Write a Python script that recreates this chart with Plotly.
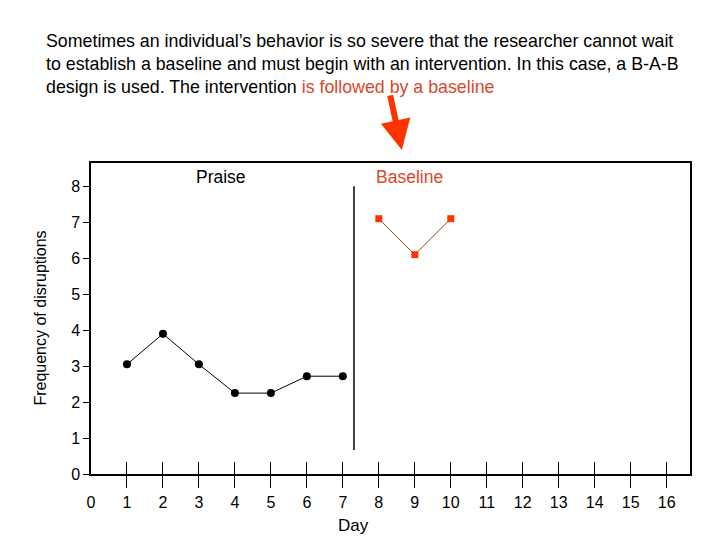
import plotly.graph_objects as go

# data
praise_days = [1, 2, 3, 4, 5, 6, 7]
praise_values = [3.05, 3.9, 3.05, 2.25, 2.25, 2.72, 2.72]
baseline_days = [8, 9, 10]
baseline_values = [7.1, 6.1, 7.1]
x_ticks = list(range(0, 17))
y_ticks = list(range(0, 9))
phase_change_x = 7.31
phase_line_y = [0.67, 8]

RED = "#ff3300"
TEXT_RED = "#d9472b"
FONT = "Liberation Sans, Arial, sans-serif"

fig = go.Figure()

fig.add_trace(go.Scatter(
    x=praise_days, y=praise_values, mode="lines+markers",
    line=dict(color="black", width=1),
    marker=dict(color="black", size=8, symbol="circle"),
    showlegend=False
))
fig.add_trace(go.Scatter(
    x=baseline_days, y=baseline_values, mode="lines+markers",
    line=dict(color="#9a3a20", width=1),
    marker=dict(color=RED, size=7, symbol="square"),
    showlegend=False
))
# phase change line
fig.add_trace(go.Scatter(
    x=[phase_change_x, phase_change_x], y=phase_line_y, mode="lines",
    line=dict(color="black", width=1.5), showlegend=False, hoverinfo="skip"
))
# dummy traces so the tick-only overlay axes get drawn
fig.add_trace(go.Scatter(x=[None], y=[None], xaxis="x2", showlegend=False))
fig.add_trace(go.Scatter(x=[None], y=[None], xaxis="x3", showlegend=False))

x_range = [0, 16.65]

# page body has an 8px margin, so the figure is offset by 8px
fig.update_layout(
    width=704, height=532,
    margin=dict(l=83, r=22, t=155, b=66),
    plot_bgcolor="white", paper_bgcolor="white",
    font=dict(family=FONT, size=16, color="black"),
    xaxis=dict(
        range=x_range, tickvals=x_ticks, ticks="outside", ticklen=13,
        tickcolor="rgba(0,0,0,0)", showgrid=False, zeroline=False,
        showline=True, mirror=True, linecolor="black", linewidth=1.5,
        tickfont=dict(size=16),
    ),
    xaxis2=dict(
        range=x_range, tickvals=x_ticks[1:], ticks="outside", ticklen=13,
        tickcolor="black", tickwidth=1, showticklabels=False, showgrid=False,
        zeroline=False, showline=False, overlaying="x", side="bottom", anchor="y",
    ),
    xaxis3=dict(
        range=x_range, tickvals=x_ticks[1:], ticks="inside", ticklen=12,
        tickcolor="black", tickwidth=1, showticklabels=False, showgrid=False,
        zeroline=False, showline=False, overlaying="x", side="bottom", anchor="y",
    ),
    yaxis=dict(
        range=[0, 8.65], tickvals=y_ticks, ticks="outside", ticklen=6,
        tickcolor="black", showgrid=False, zeroline=False,
        showline=True, mirror=True, linecolor="black", linewidth=1.5,
        tickfont=dict(size=16),
    ),
)

fig.add_annotation(
    xref="paper", yref="paper", x=-0.0785, y=1.318, xanchor="left", yanchor="middle",
    align="left", showarrow=False, font=dict(size=17.8),
    text=("Sometimes an individual’s behavior is so severe that the researcher cannot wait<br>"
          "to establish a baseline and must begin with an intervention. In this case, a B-A-B<br>"
          "design is used. The intervention <span style='color:" + TEXT_RED + "'>is followed by a baseline</span>"),
)
# arrow pointing at the baseline phase
fig.add_annotation(
    xref="paper", yref="paper", x=0.519, y=1.042, ax=-12, ay=-56,
    text="", font=dict(size=1), showarrow=True, arrowhead=2, arrowsize=1,
    arrowwidth=6, arrowcolor=RED,
)
fig.add_annotation(x=3.6, y=8.26, text="Praise", showarrow=False, font=dict(size=17.5))
fig.add_annotation(x=8.85, y=8.26, text="Baseline", showarrow=False,
                   font=dict(size=17.5, color=TEXT_RED))
fig.add_annotation(x=phase_change_x, xref="x", yref="paper", y=-0.167, yanchor="middle",
                   text="Day", showarrow=False, font=dict(size=17))
fig.add_annotation(xref="paper", yref="paper", x=-0.085, y=0.5, xanchor="center",
                   yanchor="middle", textangle=-90,
                   text="Frequency of disruptions", showarrow=False, font=dict(size=16))

fig.write_html("out.html")
